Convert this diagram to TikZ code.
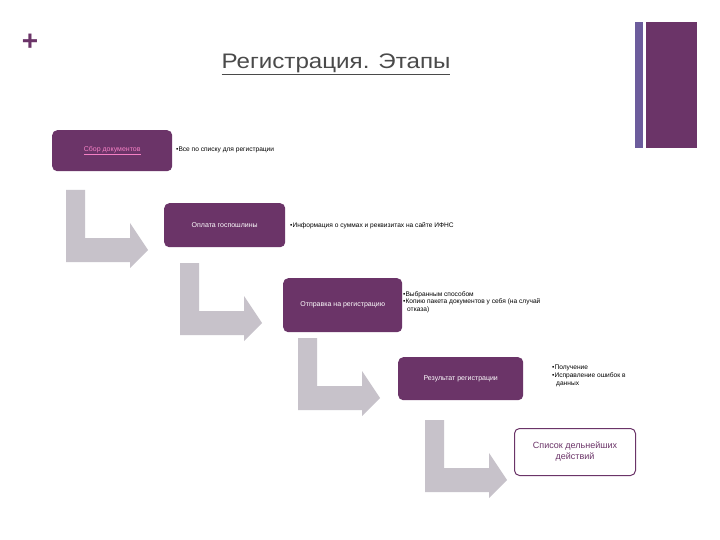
\documentclass[tikz,border=0pt]{standalone}
\usepackage{fontspec}
\setmainfont{Liberation Sans}
\definecolor{pur}{HTML}{6B3468}
\definecolor{gry}{HTML}{C7C2CA}
\definecolor{blu}{HTML}{6C5C9C}
\definecolor{ttl}{HTML}{4A4A4A}
\begin{document}
\begin{tikzpicture}[x=1pt,y=-1pt,
 box/.style={draw=none,fill=pur,rounded corners=5pt,text=white,font=\fontsize{7}{8}\selectfont,align=center,anchor=north west},
 note/.style={anchor=west,font=\fontsize{6.6}{7.8}\selectfont,align=left,inner sep=0pt}]
\useasboundingbox (0,0) rectangle (720,540);
\fill[white] (0,0) rectangle (720,540);
\fill[blu] (635,22) rectangle (643,148);
\fill[pur] (646,22) rectangle (697,148);
\node[text=pur,font=\bfseries\fontsize{28}{28}\selectfont] (plus) at (30,42) {+};
\node[text=ttl,font=\fontsize{21}{22}\selectfont] (title) at (336,64) {\underline{\scalebox{1.15}[1]{Регистрация. Этапы}}};
% arrows
\foreach \x/\y in {66/190,180/263,298/338,425/420}{
 \fill[gry] (\x,\y) -- (\x+19,\y) -- (\x+19,\y+48) -- (\x+64,\y+48) -- (\x+64,\y+33) -- (\x+82,\y+60) -- (\x+64,\y+78) -- (\x+64,\y+72) -- (\x,\y+72) -- cycle;
}
\node[box,minimum width=120pt,minimum height=41pt] (b1) at (52,130) {\textcolor{magenta!50}{\underline{Сбор документов}}};
\node[box,minimum width=121pt,minimum height=44pt] (b2) at (164,203) {Оплата госпошлины};
\node[box,minimum width=119pt,minimum height=54pt] (b3) at (283,278) {Отправка на регистрацию};
\node[box,minimum width=125pt,minimum height=43pt] (b4) at (398,357) {Результат регистрации};
\node[box,fill=white,draw=pur,line width=1pt,text=pur,minimum width=121pt,minimum height=47pt,font=\fontsize{9}{11}\selectfont] (b5) at (514,428) {Список дельнейших\\действий};
\node[note] (n1) at (176,150) {•Все по списку для регистрации};
\node[note] (n2) at (290,226) {•Информация о суммах и реквизитах на сайте ИФНС};
\node[note,anchor=north west] (n3) at (403,291) {•Выбранным способом\\•Копию пакета документов у себя (на случай\\\hspace*{4pt}отказа)};
\node[note,anchor=north west] (n4) at (552,365) {•Получение\\•Исправление ошибок в\\\hspace*{4pt}данных};
\end{tikzpicture}
\end{document}
